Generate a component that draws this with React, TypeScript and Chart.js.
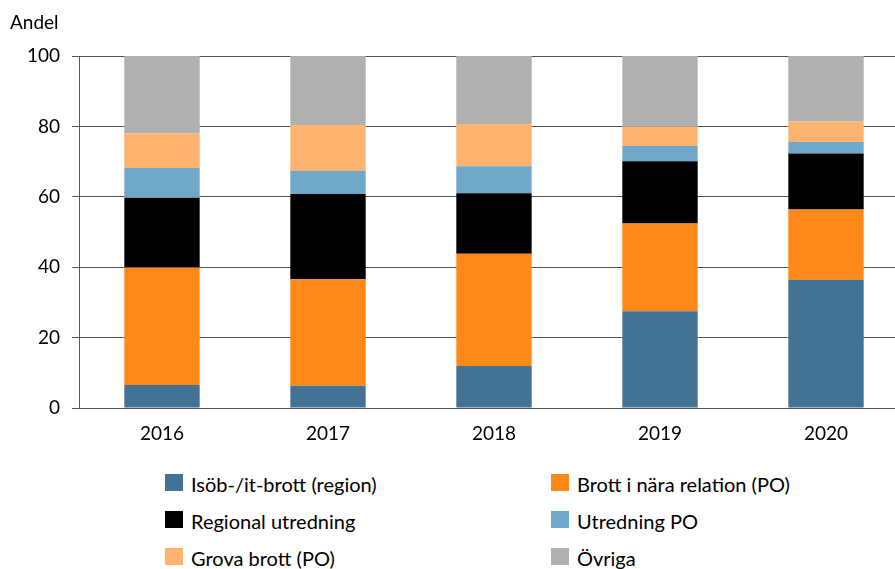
import React, { useEffect, useRef } from "react";
import { Chart, registerables } from "chart.js";

Chart.register(...registerables);

const categories = ["2016", "2017", "2018", "2019", "2020"];
const isobBrott = [6.5, 6.3, 11.9, 27.5, 36.4];
const brottNara = [33.4, 30.3, 31.9, 24.9, 20.0];
const regionalUtredning = [19.8, 24.2, 17.2, 17.7, 15.9];
const utredningPO = [8.5, 6.5, 7.7, 4.3, 3.3];
const grovaBrott = [9.8, 13.1, 12.0, 5.5, 5.8];
const ovriga = [22.0, 19.6, 19.3, 20.1, 18.6];

const seriesNames = [
  "Isöb-/it-brott (region)",
  "Brott i nära relation (PO)",
  "Regional utredning",
  "Utredning PO",
  "Grova brott (PO)",
  "Övriga",
];
const seriesColors = ["#427394", "#FF8819", "#000000", "#6FA8C9", "#FFB370", "#B0B0B0"];
const seriesValues = [isobBrott, brottNara, regionalUtredning, utredningPO, grovaBrott, ovriga];

const yMin = 0;
const yMax = 100;
const yStep = 20;
const yTitle = "Andel";

const FONT = "Lato, 'Open Sans', sans-serif";

// legend order: rows of two
const legendOrder = [
  [0, 1],
  [2, 3],
  [4, 5],
];

export default function App() {
  const canvasRef = useRef<HTMLCanvasElement | null>(null);

  useEffect(() => {
    const canvas = canvasRef.current;
    if (!canvas) return;
    const titlePlugin = {
      id: "yTitle",
      afterDraw(chart: any) {
        const ctx = chart.ctx;
        ctx.save();
        ctx.font = `19px ${FONT}`;
        ctx.fillStyle = "#000";
        ctx.textAlign = "left";
        ctx.textBaseline = "alphabetic";
        ctx.fillText(yTitle, 10, 29);
        ctx.restore();
      },
    };
    const chart = new Chart(canvas, {
      type: "bar",
      data: {
        labels: categories,
        datasets: seriesValues.map((vals, i) => ({
          label: seriesNames[i],
          data: vals,
          backgroundColor: seriesColors[i],
          borderWidth: 0,
          barPercentage: 0.454,
          categoryPercentage: 1,
        })),
      },
      options: {
        responsive: false,
        animation: false,
        devicePixelRatio: 1,
        layout: { padding: { top: 56, right: 11, left: 0, bottom: 0 } },
        plugins: {
          legend: { display: false },
          tooltip: { enabled: false },
        },
        scales: {
          x: {
            stacked: true,
            grid: { display: false, drawTicks: false },
            border: { display: true, color: "#555" },
            ticks: {
              color: "#000",
              font: { family: FONT, size: 19 },
              padding: 14,
            },
            afterFit: (scale: any) => {
              scale.height = 52;
            },
          },
          y: {
            stacked: true,
            min: yMin,
            max: yMax,
            ticks: {
              stepSize: yStep,
              color: "#000",
              font: { family: FONT, size: 19 },
              padding: 12,
            },
            grid: { color: "#555", lineWidth: 1, tickLength: 7, drawTicks: true },
            border: { display: true, color: "#555" },
            afterFit: (scale: any) => {
              scale.width = 79;
            },
          },
        },
      },
      plugins: [titlePlugin],
    });
    return () => chart.destroy();
  }, []);

  return (
    <div
      style={{
        position: "fixed",
        left: 0,
        top: 0,
        width: 895,
        height: 569,
        overflow: "hidden",
        background: "#fff",
      }}
    >
      <canvas ref={canvasRef} width={920} height={460} style={{ position: "absolute", left: 0, top: 0 }} />
      {legendOrder.map((row, r) =>
        row.map((idx, c) => (
          <div
            key={idx}
            style={{
              position: "absolute",
              left: c === 0 ? 165 : 551,
              top: 474 + r * 37,
              height: 17,
              display: "flex",
              alignItems: "center",
              whiteSpace: "nowrap",
            }}
          >
            <div style={{ width: 18, height: 17, background: seriesColors[idx] }} />
            <span
              style={{
                marginLeft: 8,
                fontFamily: FONT,
                fontSize: 20,
                lineHeight: "17px",
                color: "#000",
                position: "relative",
                top: 2,
              }}
            >
              {seriesNames[idx]}
            </span>
          </div>
        ))
      )}
    </div>
  );
}
